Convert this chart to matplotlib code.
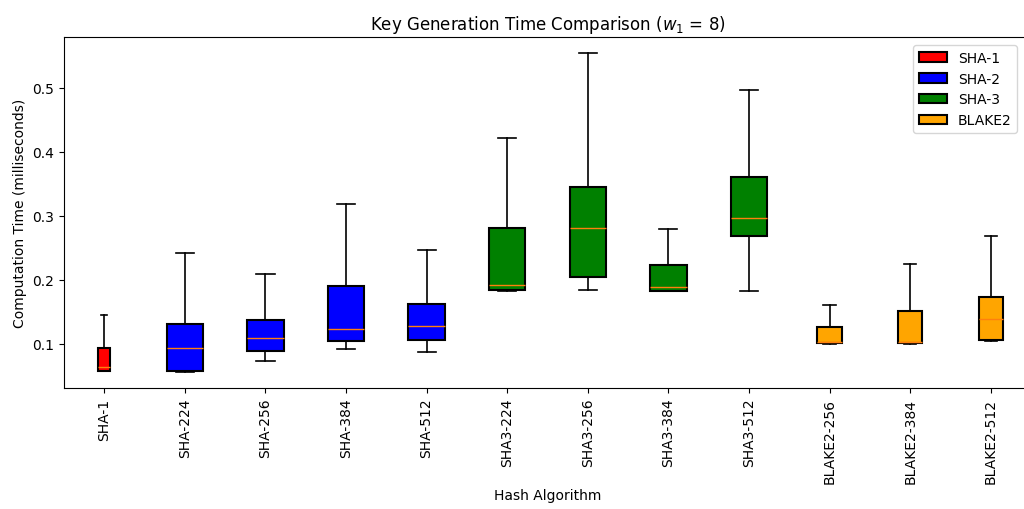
import matplotlib
matplotlib.use("Agg")
import matplotlib.pyplot as plt
from matplotlib.patches import Patch

# hash algorithms and their box statistics (milliseconds)
algorithms = ["SHA-1", "SHA-224", "SHA-256", "SHA-384", "SHA-512",
              "SHA3-224", "SHA3-256", "SHA3-384", "SHA3-512",
              "BLAKE2-256", "BLAKE2-384", "BLAKE2-512"]
families = ["SHA-1", "SHA-2", "SHA-2", "SHA-2", "SHA-2",
            "SHA-3", "SHA-3", "SHA-3", "SHA-3",
            "BLAKE2", "BLAKE2", "BLAKE2"]

whisker_low = [0.057, 0.056, 0.074, 0.092, 0.088,
               0.183, 0.184, 0.182, 0.182,
               0.1005, 0.1005, 0.104]
q1 = [0.058, 0.058, 0.0886, 0.104, 0.1057,
      0.185, 0.204, 0.183, 0.2693,
      0.102, 0.1016, 0.1067]
medians = [0.0645, 0.094, 0.109, 0.1234, 0.1276,
           0.1917, 0.2818, 0.189, 0.2974,
           0.1026, 0.1036, 0.139]
q3 = [0.094, 0.131, 0.1375, 0.1906, 0.162,
      0.2807, 0.3458, 0.223, 0.361,
      0.126, 0.152, 0.173]
whisker_high = [0.145, 0.242, 0.210, 0.318, 0.2464,
                0.4224, 0.5547, 0.280, 0.4964,
                0.161, 0.225, 0.2683]

family_colors = {"SHA-1": "red", "SHA-2": "blue", "SHA-3": "green", "BLAKE2": "orange"}
family_widths = {"SHA-1": 0.15, "SHA-2": 0.45, "SHA-3": 0.45, "BLAKE2": 0.3}

stats = []
for i, name in enumerate(algorithms):
    stats.append({
        "label": name,
        "whislo": whisker_low[i],
        "q1": q1[i],
        "med": medians[i],
        "q3": q3[i],
        "whishi": whisker_high[i],
        "fliers": [],
    })

fig = plt.figure(figsize=(10.24, 5.10), dpi=100)
# axes runs slightly past the right edge, as in the reference
ax = fig.add_axes([64 / 1024, 1 - 389 / 510, (1031 - 64) / 1024, 351 / 510])

widths = [family_widths[f] for f in families]
bp = ax.bxp(stats, widths=widths, patch_artist=True, showfliers=False,
            boxprops=dict(linewidth=1.5),
            whiskerprops=dict(linewidth=1.2),
            capprops=dict(linewidth=1.2))

for box, fam in zip(bp["boxes"], families):
    box.set_facecolor(family_colors[fam])
    box.set_edgecolor("black")
for med in bp["medians"]:
    med.set_color("#ff7f0e")

ax.set_xticks(range(1, len(algorithms) + 1))
ax.set_xticklabels(algorithms, rotation=90)
ax.set_title("Key Generation Time Comparison ($w_1$ = 8)")
ax.set_xlabel("Hash Algorithm")
ax.set_ylabel("Computation Time (milliseconds)")
ax.set_xlim(0.5, 12.5)

handles = [Patch(facecolor=family_colors[f], edgecolor="black", linewidth=1.5, label=f)
           for f in ["SHA-1", "SHA-2", "SHA-3", "BLAKE2"]]
ax.legend(handles=handles, loc="upper right",
          bbox_to_anchor=(1017 / 1024, 1 - 46 / 510),
          bbox_transform=fig.transFigure, borderaxespad=0)

fig.savefig("out.png", dpi=100)
